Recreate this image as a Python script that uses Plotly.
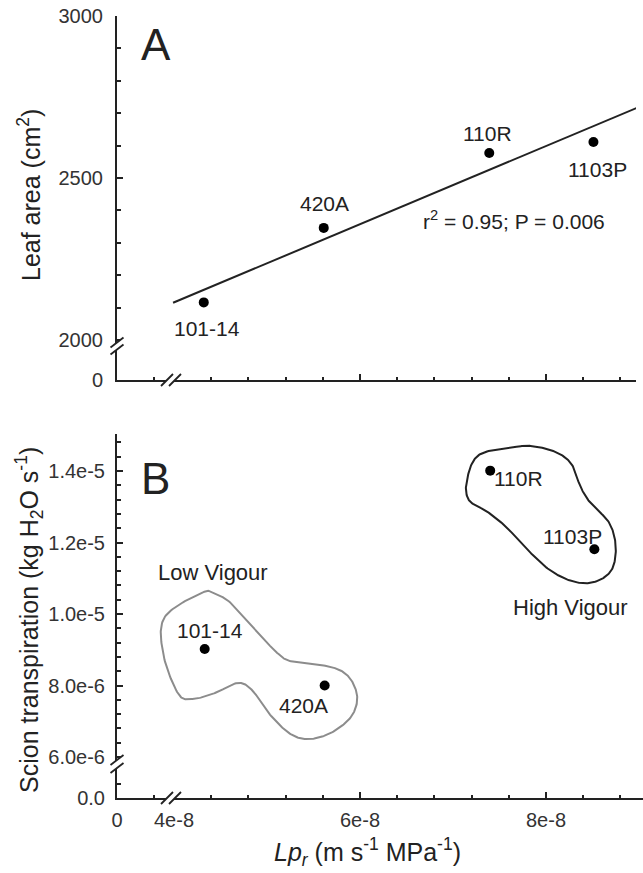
import numpy as np
import plotly.graph_objects as go

# ---------------- data ----------------
rootstocks = ["101-14", "420A", "110R", "1103P"]
lpr_a = [4.32e-8, 5.61e-8, 7.39e-8, 8.51e-8]          # panel A x
leaf_area = [2116, 2346, 2577, 2611]                  # panel A y (cm2)
lpr_b = [4.33e-8, 5.62e-8, 7.40e-8, 8.52e-8]          # panel B x
transpiration = [9.02e-6, 8.00e-6, 1.401e-5, 1.181e-5]  # panel B y

fit_span = [3.99e-8, 9.04e-8]
stats_text = "r<sup>2</sup> = 0.95; P = 0.006"

x_tick_vals = [4e-8, 6e-8, 8e-8]
x_tick_text = ["4e-8", "6e-8", "8e-8"]
ya_tick_vals = [2000, 2500, 3000]
ya_tick_text = ["2000", "2500", "3000"]
yb_tick_vals = [6e-6, 8e-6, 1.0e-5, 1.2e-5, 1.4e-5]
yb_tick_text = ["6.0e-6", "8.0e-6", "1.0e-5", "1.2e-5", "1.4e-5"]

group_names = ["Low Vigour", "High Vigour"]
low_outline_x = [4.306e-8, 3.903e-8, 3.882e-8, 4.04e-8, 4.19e-8, 4.44e-8, 4.684e-8, 4.84e-8,
                 5.017e-8, 5.237e-8, 5.44e-8, 5.684e-8, 5.903e-8, 5.97e-8, 5.88e-8, 5.684e-8,
                 5.28e-8, 5.11e-8, 4.88e-8, 4.61e-8, 4.44e-8]
low_outline_y = [10.60e-6, 9.925e-6, 8.91e-6, 7.79e-6, 7.62e-6, 7.79e-6, 8.07e-6, 7.87e-6,
                 7.23e-6, 6.67e-6, 6.50e-6, 6.67e-6, 7.12e-6, 7.68e-6, 8.24e-6, 8.52e-6,
                 8.66e-6, 8.91e-6, 9.55e-6, 10.31e-6, 10.56e-6]
high_outline_x = [7.683e-8, 7.28e-8, 7.15e-8, 7.17e-8, 7.37e-8, 7.57e-8, 7.77e-8, 8.04e-8,
                  8.305e-8, 8.527e-8, 8.705e-8, 8.75e-8, 8.68e-8, 8.48e-8, 8.37e-8, 8.28e-8,
                  8.13e-8, 7.90e-8]
high_outline_y = [14.68e-6, 14.45e-6, 13.75e-6, 13.19e-6, 12.86e-6, 12.44e-6, 11.88e-6, 11.23e-6,
                  10.90e-6, 10.90e-6, 11.23e-6, 11.88e-6, 12.55e-6, 13.10e-6, 13.56e-6, 14.17e-6,
                  14.50e-6, 14.68e-6]

# ---------------- geometry / style ----------------
W, H = 643, 873
INK = "#222222"
FONT = "Liberation Sans, Arial, sans-serif"
X_AX_PX, RIGHT_A_PX, RIGHT_B_PX = 117, 636, 643
X4_PX, PX_PER_E8 = 174, 93.0
XZ = 4e-8 - (X4_PX - X_AX_PX) / PX_PER_E8 * 1e-8   # display position of "0"

A_TOP_PX, A_BASE_PX = 16, 380
B_TOP_PX, B_BASE_PX = 434, 798
YA_Z = 1876.5
YB_Z, YB_TOP = 4.853e-6, 1.5035e-5


def pxx(x):
    return x / W


def pxy(y):
    return 1 - y / H


def smooth_closed(xs, ys, n=24):
    P = np.column_stack([xs, ys])
    m = len(P)
    out = []
    for i in range(m):
        p0, p1, p2, p3 = P[(i - 1) % m], P[i], P[(i + 1) % m], P[(i + 2) % m]
        for t in np.linspace(0, 1, n, endpoint=False):
            t2, t3 = t * t, t * t * t
            out.append(0.5 * ((2 * p1) + (-p0 + p2) * t + (2 * p0 - 5 * p1 + 4 * p2 - p3) * t2
                              + (-p0 + 3 * p1 - 3 * p2 + p3) * t3))
    out.append(out[0])
    out = np.array(out)
    return out[:, 0], out[:, 1]


fig = go.Figure()

# Panel A
coef = np.polyfit(lpr_a, leaf_area, 1)
fig.add_trace(go.Scatter(x=fit_span, y=np.polyval(coef, fit_span), mode="lines",
                         line=dict(color=INK, width=2), xaxis="x", yaxis="y", showlegend=False))
fig.add_trace(go.Scatter(x=lpr_a, y=leaf_area, mode="markers",
                         marker=dict(color="black", size=10), xaxis="x", yaxis="y", showlegend=False))

# Panel B
lx, ly = smooth_closed(low_outline_x, low_outline_y)
hx, hy = smooth_closed(high_outline_x, high_outline_y)
fig.add_trace(go.Scatter(x=lx, y=ly, mode="lines", line=dict(color="#8c8c8c", width=2),
                         xaxis="x2", yaxis="y2", showlegend=False, hoverinfo="skip"))
fig.add_trace(go.Scatter(x=hx, y=hy, mode="lines", line=dict(color=INK, width=2),
                         xaxis="x2", yaxis="y2", showlegend=False, hoverinfo="skip"))
fig.add_trace(go.Scatter(x=lpr_b, y=transpiration, mode="markers",
                         marker=dict(color="black", size=10), xaxis="x2", yaxis="y2", showlegend=False))

tickfont = dict(family=FONT, size=20, color="#333333")
common = dict(showline=True, linecolor=INK, linewidth=2, ticks="inside", ticklen=6,
              tickwidth=1.5, tickcolor=INK, showgrid=False, zeroline=False,
              tickfont=tickfont, tickmode="array", automargin=False)

x_minor = [XZ + 0.4e-8] + [v * 1e-9 for v in range(44, 92, 4)]
ya_minor = list(range(2100, 3000, 100))
yb_minor = [YB_Z + 0.4e-6] + [v * 1e-7 for v in range(64, 150, 4)]

fig.update_layout(
    width=W, height=H, template="none",
    margin=dict(l=0, r=0, t=0, b=0, pad=0),
    paper_bgcolor="white", plot_bgcolor="rgba(0,0,0,0)",
    xaxis=dict(domain=[pxx(X_AX_PX), pxx(RIGHT_A_PX)],
               range=[XZ, XZ + (RIGHT_A_PX - X_AX_PX) / PX_PER_E8 * 1e-8],
               anchor="y", tickvals=[XZ] + x_tick_vals, showticklabels=False,
               minor=dict(tickvals=x_minor, ticks="inside", ticklen=3.5, tickwidth=1.5, tickcolor=INK),
               **common),
    yaxis=dict(domain=[pxy(A_BASE_PX), pxy(A_TOP_PX)], range=[YA_Z, 3000], anchor="x",
               tickvals=[YA_Z] + ya_tick_vals, ticktext=["0"] + ya_tick_text,
               ticklabelstandoff=8,
               minor=dict(tickvals=ya_minor, ticks="inside", ticklen=3.5, tickwidth=1.5, tickcolor=INK),
               **common),
    xaxis2=dict(domain=[pxx(X_AX_PX), pxx(RIGHT_B_PX)],
                range=[XZ, XZ + (RIGHT_B_PX - X_AX_PX) / PX_PER_E8 * 1e-8],
                anchor="y2", tickvals=[XZ] + x_tick_vals, ticktext=["0"] + x_tick_text,
                ticklabelstandoff=3,
                minor=dict(tickvals=x_minor, ticks="inside", ticklen=3.5, tickwidth=1.5, tickcolor=INK),
                **common),
    yaxis2=dict(domain=[pxy(B_BASE_PX), pxy(B_TOP_PX)], range=[YB_Z, YB_TOP], anchor="x2",
                tickvals=[YB_Z] + yb_tick_vals, ticktext=["0.0"] + yb_tick_text,
                ticklabelstandoff=6,
                minor=dict(tickvals=yb_minor, ticks="inside", ticklen=3.5, tickwidth=1.5, tickcolor=INK),
                **common),
)

# ---------------- axis breaks ----------------
shapes = []


def break_mark(cx, cy, horizontal, w=12, h=12, sep=8):
    offs = [(-sep / 2, 0), (sep / 2, 0)] if horizontal else [(0, -sep / 2), (0, sep / 2)]
    segs = []
    for ox, oy in offs:
        segs.append(((cx - w / 2 + ox, cy + h / 2 + oy), (cx + w / 2 + ox, cy - h / 2 + oy)))
    (a1, b1), (a2, b2) = segs
    path = (f"M{pxx(a1[0])},{pxy(a1[1])} L{pxx(b1[0])},{pxy(b1[1])} "
            f"L{pxx(b2[0])},{pxy(b2[1])} L{pxx(a2[0])},{pxy(a2[1])} Z")
    shapes.append(dict(type="path", path=path, xref="paper", yref="paper",
                       fillcolor="white", line=dict(width=0), layer="above"))
    for a, b in segs:
        shapes.append(dict(type="line", xref="paper", yref="paper",
                           x0=pxx(a[0]), y0=pxy(a[1]), x1=pxx(b[0]), y1=pxy(b[1]),
                           line=dict(color=INK, width=1.8), layer="above"))


break_mark(171, A_BASE_PX, True)
break_mark(X_AX_PX, 346, False, w=13, h=10, sep=7)
break_mark(171, B_BASE_PX, True)
break_mark(X_AX_PX, 764, False, w=13, h=10, sep=8)
fig.update_layout(shapes=shapes)

# ---------------- text ----------------
lab = dict(family=FONT, size=21, color="#222222")
grp = dict(family=FONT, size=22, color="#222222")
ann = []


def note(x, y, text, font, xref="paper", yref="paper", angle=0):
    ann.append(dict(x=x, y=y, xref=xref, yref=yref, text=text, showarrow=False, font=font,
                    xanchor="center", yanchor="middle", textangle=angle))


label_a = [(4.35e-8, 2036), (5.617e-8, 2422), (7.37e-8, 2638), (8.55e-8, 2525)]
for name, (x, y) in zip(rootstocks, label_a):
    note(x, y, name, lab, "x", "y")
note(7.66e-8, 2370, stats_text, lab, "x", "y")

label_b = [(4.39e-8, 9.55e-6), (5.39e-8, 7.43e-6), (7.705e-8, 13.78e-6), (8.28e-8, 12.18e-6)]
for name, (x, y) in zip(rootstocks, label_b):
    note(x, y, name, lab, "x2", "y2")
note(4.42e-8, 11.16e-6, group_names[0], grp, "x2", "y2")
note(8.26e-8, 10.17e-6, group_names[1], grp, "x2", "y2")

big = dict(family=FONT, size=44, color="#222222")
note(pxx(156), pxy(44), "A", big)
note(pxx(155), pxy(478), "B", big)

title_font = dict(family=FONT, size=25, color="#222222")
note(pxx(29), pxy(195), "Leaf area (cm<sup>2</sup>)", title_font, angle=-90)
note(pxx(29), pxy(620), "Scion transpiration (kg H<sub>2</sub>O s<sup>-1</sup>)", title_font, angle=-90)
note(pxx(367), pxy(852), "<i>Lp<sub>r</sub></i> (m s<sup>-1</sup> MPa<sup>-1</sup>)", title_font)
fig.update_layout(annotations=ann)

fig.write_html("out.html")
